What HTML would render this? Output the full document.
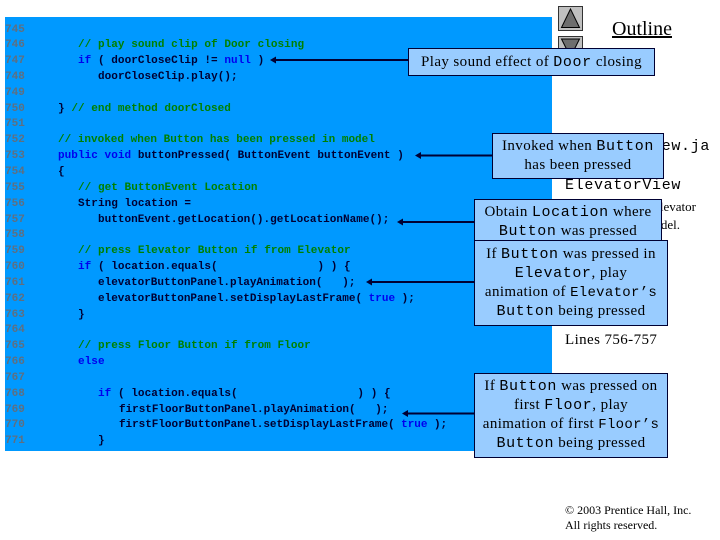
<!DOCTYPE html>
<html><head><meta charset="utf-8"><style>
html,body{margin:0;padding:0;background:#fff;width:720px;height:540px;overflow:hidden}
#bg{position:absolute;left:5px;top:17px;width:547px;height:434px;background:#0099ff}
.l{position:absolute;margin-top:1px;font:bold 11px/14px "Liberation Mono",monospace;letter-spacing:.05px;white-space:pre;color:#000033;filter:blur(.2px)}
.n{color:#5f6f80;left:5px}
.g{color:#008000}
.b{color:#0000ee}
.t{position:absolute;font-family:"Liberation Serif",serif;color:#000;white-space:pre}
.m{font-family:"Liberation Mono",monospace;font-size:15px;letter-spacing:.6px;line-height:0}
.c{font-size:14px;letter-spacing:.3px}
.box{position:absolute;box-sizing:border-box;background:#99ccff;border:1px solid #000033;text-align:center;font:15px/19px "Liberation Serif",serif;letter-spacing:.4px;color:#000;white-space:pre}
svg{position:absolute;left:0;top:0}
</style></head><body>
<div id="bg"></div>
<div class="l n" style="top:22px">745</div>
<div class="l n" style="top:37px">746</div><div class="l g" style="left:78px;top:37px">// play sound clip of Door closing</div>
<div class="l n" style="top:53px">747</div><div class="l" style="left:78px;top:53px"><span class="b">if</span> ( doorCloseClip != <span class="b">null</span> )</div>
<div class="l n" style="top:69px">748</div><div class="l" style="left:98px;top:69px">doorCloseClip.play();</div>
<div class="l n" style="top:85px">749</div>
<div class="l n" style="top:101px">750</div><div class="l" style="left:58px;top:101px">} <span class="g">// end method doorClosed</span></div>
<div class="l n" style="top:116px">751</div>
<div class="l n" style="top:132px">752</div><div class="l g" style="left:58px;top:132px;letter-spacing:0">// invoked when Button has been pressed in model</div>
<div class="l n" style="top:148px">753</div><div class="l" style="left:58px;top:148px"><span class="b">public void</span> buttonPressed( ButtonEvent buttonEvent )</div>
<div class="l n" style="top:164px">754</div><div class="l" style="left:58px;top:164px">{</div>
<div class="l n" style="top:180px">755</div><div class="l g" style="left:78px;top:180px">// get ButtonEvent Location</div>
<div class="l n" style="top:196px">756</div><div class="l" style="left:78px;top:196px">String location =</div>
<div class="l n" style="top:212px">757</div><div class="l" style="left:98px;top:212px;letter-spacing:.02px">buttonEvent.getLocation().getLocationName();</div>
<div class="l n" style="top:227px">758</div>
<div class="l n" style="top:243px">759</div><div class="l g" style="left:78px;top:243px">// press Elevator Button if from Elevator</div>
<div class="l n" style="top:259px">760</div><div class="l" style="left:78px;top:259px"><span class="b">if</span> ( location.equals(               ) ) {</div>
<div class="l n" style="top:275px">761</div><div class="l" style="left:98px;top:275px;letter-spacing:0">elevatorButtonPanel.playAnimation(   );</div>
<div class="l n" style="top:291px">762</div><div class="l" style="left:98px;top:291px;letter-spacing:0">elevatorButtonPanel.setDisplayLastFrame( <span class="b">true</span> );</div>
<div class="l n" style="top:307px">763</div><div class="l" style="left:78px;top:307px">}</div>
<div class="l n" style="top:322px">764</div>
<div class="l n" style="top:338px">765</div><div class="l g" style="left:78px;top:338px">// press Floor Button if from Floor</div>
<div class="l n" style="top:354px">766</div><div class="l b" style="left:78px;top:354px">else</div>
<div class="l n" style="top:370px">767</div>
<div class="l n" style="top:386px">768</div><div class="l" style="left:98px;top:386px"><span class="b">if</span> ( location.equals(                  ) ) {</div>
<div class="l n" style="top:402px">769</div><div class="l" style="left:119px;top:402px;letter-spacing:-.03px">firstFloorButtonPanel.playAnimation(   );</div>
<div class="l n" style="top:417px">770</div><div class="l" style="left:119px;top:417px;letter-spacing:-.04px">firstFloorButtonPanel.setDisplayLastFrame( <span class="b">true</span> );</div>
<div class="l n" style="top:433px">771</div><div class="l" style="left:98px;top:433px">}</div>

<svg width="720" height="540">
<rect x="558.5" y="6.5" width="24" height="24" fill="#c0c0c0" stroke="#333"/>
<polygon points="570.5,9 561.5,27.5 579.5,27.5" fill="#6e6e6e" stroke="#000"/>
<rect x="558.5" y="36.5" width="24" height="24" fill="#c0c0c0" stroke="#333"/>
<polygon points="570.5,57 561.5,39 579.5,39" fill="#6e6e6e" stroke="#000"/>
</svg>

<div class="t" style="left:612px;top:18px;font-size:20px;line-height:23px;text-decoration:underline">Outline</div>
<div class="t m" style="left:565px;top:147px;letter-spacing:.67px">ElevatorView.ja</div>
<div class="t m" style="left:565px;top:186px;letter-spacing:.67px">ElevatorView</div>
<div class="t" style="left:600px;top:199px;width:96px;text-align:right;font-size:13px;line-height:16px">Elevator</div>
<div class="t" style="left:600px;top:217px;width:80px;text-align:right;font-size:13px;line-height:16px">model.</div>
<div class="t" style="left:565px;top:331px;font-size:15px;letter-spacing:.4px;line-height:18px">Lines 756-757</div>
<div class="t" style="left:565px;top:503px;font-size:12px;line-height:15px">© 2003 Prentice Hall, Inc.</div>
<div class="t" style="left:565px;top:518px;font-size:12px;line-height:15px">All rights reserved.</div>

<svg width="720" height="540">
<g stroke="#000033" stroke-width="2" fill="#000033">
<line x1="274" y1="60" x2="408" y2="60"/><polygon points="270,60 276,56.5 276,63.5" stroke="none"/>
<line x1="419" y1="155.5" x2="492" y2="155.5"/><polygon points="415,155.5 421,152 421,159" stroke="none"/>
<line x1="401" y1="222" x2="474" y2="222"/><polygon points="397,222 403,218.5 403,225.5" stroke="none"/>
<line x1="370" y1="282" x2="474" y2="282"/><polygon points="366,282 372,278.5 372,285.5" stroke="none"/>
<line x1="406" y1="413.5" x2="474" y2="413.5"/><polygon points="402,413.5 408,410 408,417" stroke="none"/>
</g></svg>

<div class="box" style="left:408px;top:48px;width:247px;height:28px;line-height:26px">Play sound effect of <span class="m">Door</span> closing</div>
<div class="box" style="left:492px;top:133px;width:172px;height:46px;padding-top:3px">Invoked when <span class="m">Button</span>
has been pressed</div>
<div class="box" style="left:474px;top:199px;width:188px;height:44px;padding-top:3px">Obtain <span class="m">Location</span> where
<span class="m">Button</span> was pressed</div>
<div class="box" style="left:474px;top:240px;width:194px;height:86px;padding-top:4px">If <span class="m">Button</span> was pressed in
<span class="m">Elevator</span>, play
animation of <span class="m c">Elevator’s</span>
<span class="m">Button</span> being pressed</div>
<div class="box" style="left:474px;top:373px;width:194px;height:85px;padding-top:3px">If <span class="m">Button</span> was pressed on
first <span class="m">Floor</span>, play
animation of first <span class="m c">Floor’s</span>
<span class="m">Button</span> being pressed</div>
</body></html>
